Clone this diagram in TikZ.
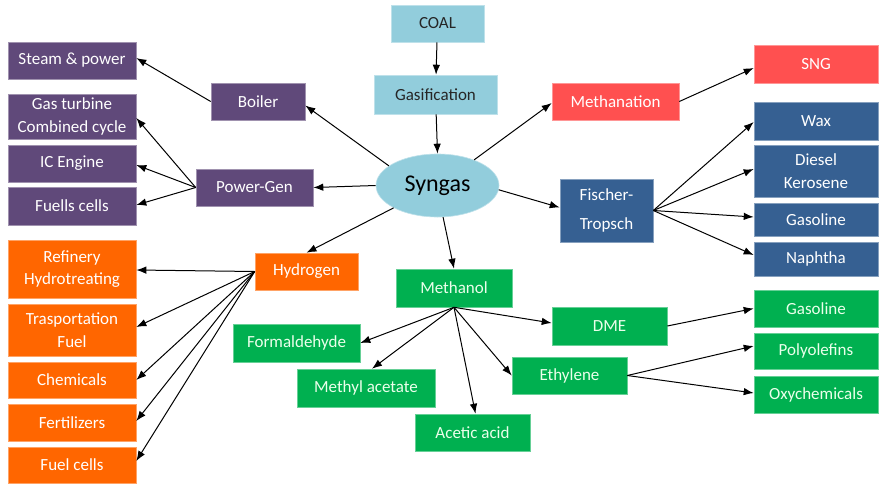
\documentclass[tikz,border=0pt]{standalone}
\usepackage{fontspec}
\setmainfont{Carlito}
\usetikzlibrary{arrows.meta,shapes.geometric,calc}
\definecolor{cpur}{RGB}{96,73,122}
\definecolor{cblu}{RGB}{146,205,220}
\definecolor{cred}{RGB}{255,80,80}
\definecolor{cdb}{RGB}{54,96,146}
\definecolor{cor}{RGB}{255,102,0}
\definecolor{cgr}{RGB}{0,176,80}
\begin{document}
\begin{tikzpicture}[x=1pt,y=-1pt,
  bx/.style={rectangle, inner sep=0pt, align=center, text=white,
    font=\fontsize{17}{22.5}\selectfont, line width=0.6pt},
  pur/.style={bx, fill=cpur, draw=cpur!60!white},
  lbl/.style={bx, fill=cblu, draw=cblu!60!white, text=black!85},
  red/.style={bx, fill=cred, draw=cred!60!white},
  dbl/.style={bx, fill=cdb, draw=cdb!60!white},
  org/.style={bx, fill=cor, draw=cor!60!white},
  grn/.style={bx, fill=cgr, draw=cgr!60!white, text=green!8!white},
  arr/.style={-{Latex[length=10pt,width=7.5pt]}, line width=1pt, black}]
\useasboundingbox (0,0) rectangle (879,485);
\fill[white] (0,0) rectangle (879,485);

% top chain
\node[lbl, minimum width=93pt, minimum height=37pt] (coal) at (437.5,23.5) {COAL};
\node[lbl, minimum width=123pt, minimum height=39pt] (gas) at (435.5,94.5) {Gasification};
\node[ellipse, fill=cblu, draw=cblu!60!white, line width=0.6pt, minimum width=123pt, minimum height=63pt, inner sep=0pt,
  font=\fontsize{24}{26}\selectfont, text=black] (syn) at (437.5,185.5) {Syngas};
\node[grn, minimum width=116pt, minimum height=38pt] (mol) at (454,288) {Methanol};

% purple
\node[pur, minimum width=128pt, minimum height=37pt] (steam) at (72,60.5) {Steam \& power};
\node[pur, minimum width=94pt, minimum height=37pt] (boiler) at (258,101.5) {Boiler};
\node[pur, minimum width=128pt, minimum height=45pt] (gt) at (72,116.5) {Gas turbine\\Combined cycle};
\node[pur, minimum width=128pt, minimum height=37pt] (ice) at (72,163.5) {IC Engine};
\node[pur, minimum width=128pt, minimum height=38pt] (fca) at (72,206) {Fuells cells};
\node[pur, minimum width=117pt, minimum height=37pt] (pg) at (254.5,187.5) {Power-Gen};

% orange
\node[org, minimum width=128pt, minimum height=58pt] (ref) at (72,269) {Refinery\\Hydrotreating};
\node[org, minimum width=128pt, minimum height=52pt] (tra) at (72,330) {Trasportation\\Fuel};
\node[org, minimum width=128pt, minimum height=36pt] (chem) at (72,380) {Chemicals};
\node[org, minimum width=128pt, minimum height=37pt] (fert) at (72,422.5) {Fertilizers};
\node[org, minimum width=128pt, minimum height=36pt] (fcb) at (72,465) {Fuel cells};
\node[org, minimum width=103pt, minimum height=37pt] (hyd) at (306.5,271.5) {Hydrogen};

% red
\node[red, minimum width=127pt, minimum height=37pt] (mtn) at (615.5,101.5) {Methanation};
\node[red, minimum width=124pt, minimum height=38pt] (sng) at (816,64) {SNG};

% dark blue
\node[dbl, minimum width=93pt, minimum height=63pt] (ft) at (606.5,210.5) {Fischer-\\[6pt]Tropsch};
\node[dbl, minimum width=124pt, minimum height=38pt] (wax) at (816,121) {Wax};
\node[dbl, minimum width=124pt, minimum height=52pt] (dk) at (816,171) {Diesel\\Kerosene};
\node[dbl, minimum width=124pt, minimum height=33pt] (gsa) at (816,219.5) {Gasoline};
\node[dbl, minimum width=124pt, minimum height=34pt] (nap) at (816,259) {Naphtha};

% green
\node[grn, minimum width=127pt, minimum height=38pt] (form) at (296.5,343) {Formaldehyde};
\node[grn, minimum width=138pt, minimum height=38pt] (mac) at (366,388) {Methyl acetate};
\node[grn, minimum width=115pt, minimum height=37pt] (acet) at (472.5,432.5) {Acetic acid};
\node[grn, minimum width=115pt, minimum height=38pt] (dme) at (609.5,326) {DME};
\node[grn, minimum width=115pt, minimum height=37pt] (eth) at (569.5,375.5) {Ethylene};
\node[grn, minimum width=124pt, minimum height=37pt] (gsb) at (816,308.5) {Gasoline};
\node[grn, minimum width=124pt, minimum height=36pt] (poly) at (816,351) {Polyolefins};
\node[grn, minimum width=124pt, minimum height=37pt] (oxy) at (816,394.5) {Oxychemicals};

% arrows
\draw[arr] (coal) -- (gas);
\draw[arr] (gas) -- (syn.north);
\draw[arr] (syn.158) -- ($(boiler.east)+(0,4)$);
\draw[arr] (syn.west) -- (pg.east);
\draw[arr] (syn.207) -- (hyd.north);
\draw[arr] (syn.-80) -- (mol.north);
\draw[arr] (syn.35) -- ($(mtn.west)+(0,1.5)$);
\draw[arr] (syn.-4) -- ($(ft.west)+(0,-3)$);

\draw[arr] (boiler.west) -- ($(steam.east)+(0,-2.5)$);
\draw[arr] (pg.west) -- ($(gt.east)+(0,1.5)$);
\draw[arr] (pg.west) -- ($(ice.east)+(0,1.5)$);
\draw[arr] (pg.west) -- ($(fca.east)+(0,-1)$);

\draw[arr] (hyd.west) -- ($(ref.east)+(0,1)$);
\draw[arr] (hyd.west) -- ($(tra.east)+(0,-3)$);
\draw[arr] (hyd.west) -- (chem.east);
\draw[arr] (hyd.west) -- ($(fert.east)+(0,-1.5)$);
\draw[arr] (hyd.west) -- ($(fcb.east)+(0,-4)$);

\draw[arr] (mtn.east) -- ($(sng.west)+(0,4)$);
\draw[arr] (ft.east) -- ($(wax.west)+(0,1)$);
\draw[arr] (ft.east) -- ($(dk.west)+(0,-2)$);
\draw[arr] (ft.east) -- ($(gsa.west)+(0,-2.5)$);
\draw[arr] (ft.east) -- ($(nap.west)+(0,-4)$);

\draw[arr] (mol.south) -- (form.east);
\draw[arr] (mol.south) -- ($(mac.north)+(6,0)$);
\draw[arr] (mol.south) -- ($(acet.north)+(3,0)$);
\draw[arr] (mol.south) -- (eth.west);
\draw[arr] (mol.south) -- ($(dme.west)+(0,-3)$);

\draw[arr] (dme.east) -- (gsb.west);
\draw[arr] (eth.east) -- ($(poly.west)+(0,-5)$);
\draw[arr] (eth.east) -- ($(oxy.west)+(0,-1.5)$);
\end{tikzpicture}
\end{document}
